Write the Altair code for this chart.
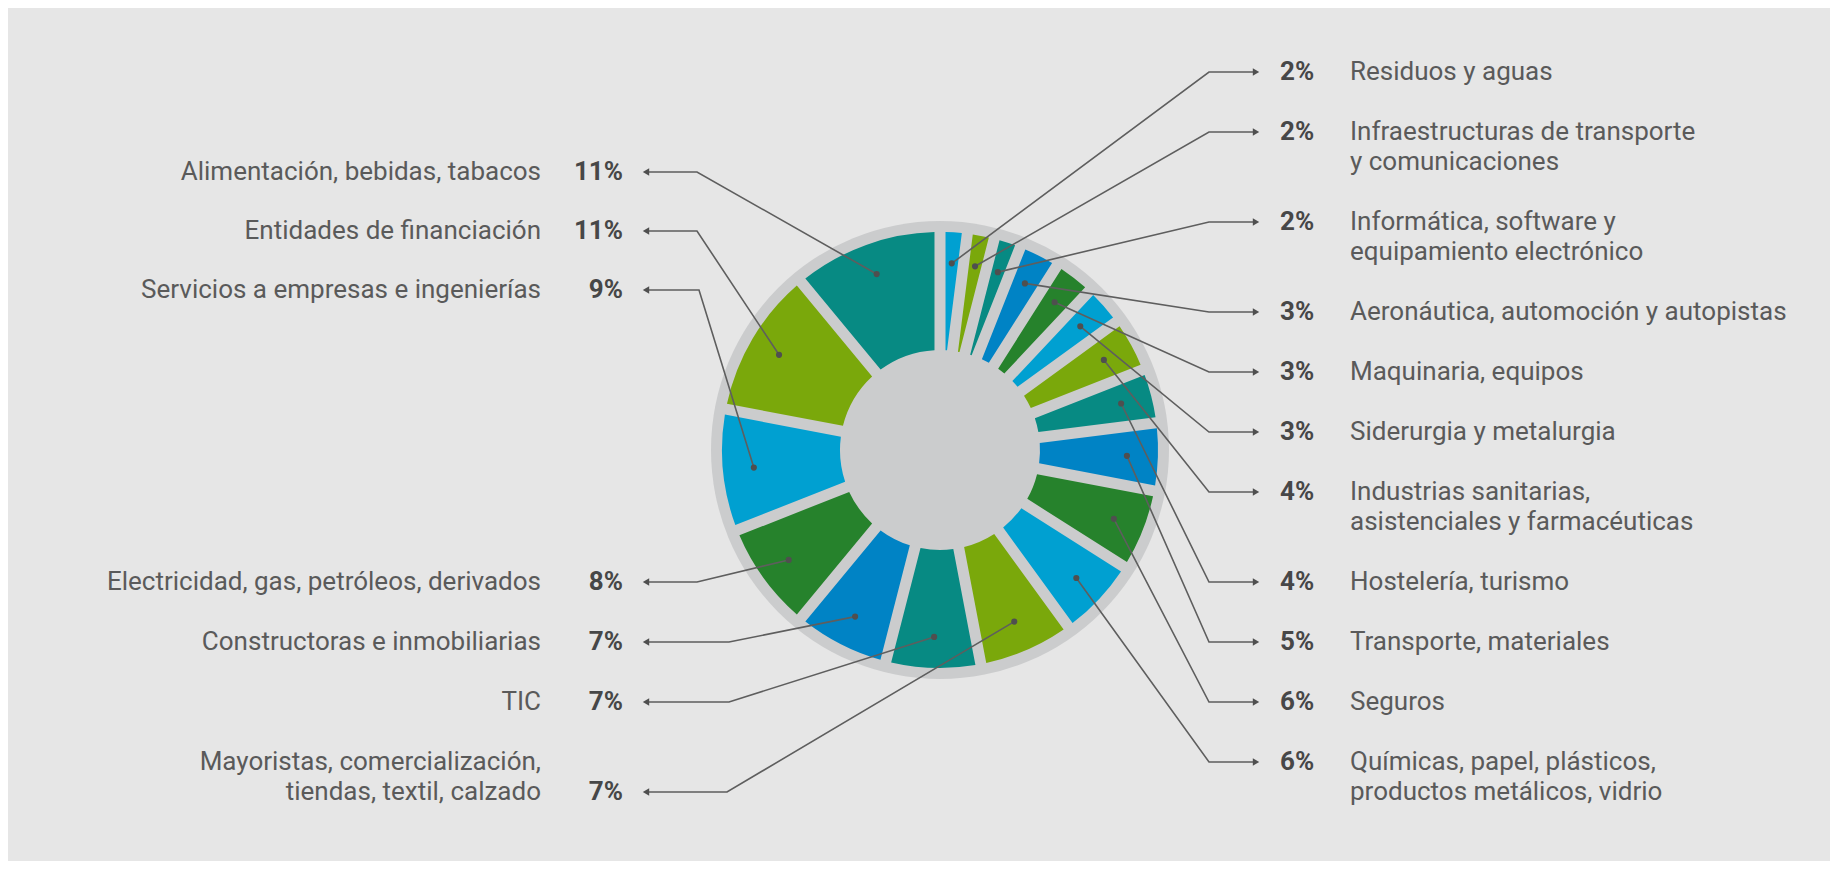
import math
import altair as alt
import pandas as pd

# ---------------- data ----------------
sectors = [
    "Residuos y aguas",
    "Infraestructuras de transporte\ny comunicaciones",
    "Informática, software y\nequipamiento electrónico",
    "Aeronáutica, automoción y autopistas",
    "Maquinaria, equipos",
    "Siderurgia y metalurgia",
    "Industrias sanitarias,\nasistenciales y farmacéuticas",
    "Hostelería, turismo",
    "Transporte, materiales",
    "Seguros",
    "Químicas, papel, plásticos,\nproductos metálicos, vidrio",
    "Mayoristas, comercialización,\ntiendas, textil, calzado",
    "TIC",
    "Constructoras e inmobiliarias",
    "Electricidad, gas, petróleos, derivados",
    "Servicios a empresas e ingenierías",
    "Entidades de financiación",
    "Alimentación, bebidas, tabacos",
]
shares = [2, 2, 2, 3, 3, 3, 4, 4, 5, 6, 6, 7, 7, 7, 8, 9, 11, 11]

# ---------------- style / layout ----------------
palette = ["#00a0d1", "#7aa80b", "#078a83", "#0083c5", "#26822c"]
BG = "#e6e6e6"
DISC = "#cbcccd"
TXT = "#5a5a5a"
PCT = "#474747"
LINE = "#5e5e5e"
FONT = "Roboto"
FS = 26
LH = 30

CX, CY = 940, 450
R_DISC, R_IN, R_OUT, R_DOT = 229, 100, 218, 187
N_RIGHT = 11

W, H = 1822, 853
X0, Y0 = 8, 8

# right rows: 60 px step, +30 after each two-line label
right_rows = []
y = 72
for i in range(N_RIGHT):
    right_rows.append(y)
    y += 60 + LH * sectors[i].count("\n")
# left rows (index = sector index)
left_rows = {17: 172, 16: 231, 15: 290, 14: 582, 13: 642, 12: 702, 11: 792}
left_bend = {17: 697, 16: 697, 15: 699, 14: 697, 13: 729, 12: 729, 11: 727}
R_BEND, R_TIP, R_PCT, R_LBL = 1209, 1260, 1280, 1350
L_TIP, L_PCT, L_LBL = 642, 623, 541

# ---------------- derived tables ----------------
total = sum(shares)
slice_rows, dot_rows, line_rows, arrow_rows, lbl_rows, pct_rows = [], [], [], [], [], []
cum = 0
for i, (name, v) in enumerate(zip(sectors, shares)):
    mid = (cum + v / 2) / total * 2 * math.pi
    cum += v
    dx = CX + R_DOT * math.sin(mid)
    dy = CY - R_DOT * math.cos(mid)
    slice_rows.append({"idx": i, "sector": name.replace("\n", " "), "share": v, "tone": i % 5})
    dot_rows.append({"x": dx, "y": dy})
    lines = name.split("\n")
    if i < N_RIGHT:
        ry = right_rows[i]
        pts = [(dx, dy), (R_BEND, ry), (R_TIP - 3, ry)]
        arrow_rows.append({"x": R_TIP - 4, "y": ry, "dir": "R"})
        pct_rows.append({"x": R_PCT, "y": ry, "t": f"{v}%", "side": "R"})
        for k, ln in enumerate(lines):
            lbl_rows.append({"x": R_LBL, "y": ry + LH * k, "t": ln, "side": "R"})
    else:
        ry = left_rows[i]
        pts = [(dx, dy), (left_bend[i], ry), (L_TIP + 3, ry)]
        arrow_rows.append({"x": L_TIP + 4, "y": ry, "dir": "L"})
        pct_rows.append({"x": L_PCT, "y": ry, "t": f"{v}%", "side": "L"})
        n = len(lines)
        for k, ln in enumerate(lines):
            lbl_rows.append({"x": L_LBL, "y": ry - LH * (n - 1 - k), "t": ln, "side": "L"})
    for s, (px, py) in enumerate(pts):
        line_rows.append({"id": i, "seq": s, "x": px, "y": py})

slices_df = pd.DataFrame(slice_rows)
dots_df = pd.DataFrame(dot_rows)
lines_df = pd.DataFrame(line_rows)
arrows_df = pd.DataFrame(arrow_rows)
lbl_df = pd.DataFrame(lbl_rows)
pct_df = pd.DataFrame(pct_rows)

xs = alt.Scale(domain=[X0, X0 + W])
ys = alt.Scale(domain=[Y0, Y0 + H], reverse=True)


def X(f):
    return alt.X(f, type="quantitative", scale=xs, axis=None)


def Y(f):
    return alt.Y(f, type="quantitative", scale=ys, axis=None)


disc = alt.Chart(pd.DataFrame({"a": [0]})).mark_arc(
    innerRadius=0, outerRadius=R_DISC, theta=0, theta2=2 * math.pi, color=DISC
).encode(x=alt.XDatum(CX, scale=xs, axis=None), y=alt.YDatum(CY, scale=ys, axis=None))

slices = alt.Chart(slices_df).mark_arc(
    innerRadius=R_IN, outerRadius=R_OUT, padAngle=0.046
).encode(
    x=alt.XDatum(CX, scale=xs, axis=None),
    y=alt.YDatum(CY, scale=ys, axis=None),
    theta=alt.Theta("share:Q", stack=True),
    order=alt.Order("idx:Q", sort="ascending"),
    color=alt.Color("tone:N", scale=alt.Scale(domain=[0, 1, 2, 3, 4], range=palette), legend=None),
    tooltip=["sector:N", "share:Q"],
)

leaders = alt.Chart(lines_df).mark_line(color=LINE, strokeWidth=1.6).encode(
    x=X("x"), y=Y("y"), detail="id:N", order="seq:Q"
)

dots = alt.Chart(dots_df).mark_circle(size=38, color="#4f4f4f", opacity=1).encode(x=X("x"), y=Y("y"))

arrows = alt.Chart(arrows_df).mark_point(filled=True, size=55, color="#4f4f4f", opacity=1).encode(
    x=X("x"), y=Y("y"),
    shape=alt.Shape("dir:N", scale=alt.Scale(domain=["L", "R"], range=["triangle-left", "triangle-right"]), legend=None),
)

lbl_r = alt.Chart(lbl_df[lbl_df.side == "R"]).mark_text(
    align="left", baseline="middle", font=FONT, fontSize=FS, color=TXT
).encode(x=X("x"), y=Y("y"), text="t:N")
lbl_l = alt.Chart(lbl_df[lbl_df.side == "L"]).mark_text(
    align="right", baseline="middle", font=FONT, fontSize=FS, color=TXT
).encode(x=X("x"), y=Y("y"), text="t:N")
pct_r = alt.Chart(pct_df[pct_df.side == "R"]).mark_text(
    align="left", baseline="middle", font=FONT, fontSize=FS, fontWeight="bold", color=PCT
).encode(x=X("x"), y=Y("y"), text="t:N")
pct_l = alt.Chart(pct_df[pct_df.side == "L"]).mark_text(
    align="right", baseline="middle", font=FONT, fontSize=FS, fontWeight="bold", color=PCT
).encode(x=X("x"), y=Y("y"), text="t:N")

chart = alt.layer(disc, slices, leaders, dots, arrows, lbl_r, lbl_l, pct_r, pct_l).properties(
    width=W,
    height=H,
    autosize=alt.AutoSizeParams(type="fit", contains="padding"),
    padding=0,
    background=BG,
).configure_view(stroke=None)

chart.save("out.html", embed_options={"renderer": "svg", "actions": False})
